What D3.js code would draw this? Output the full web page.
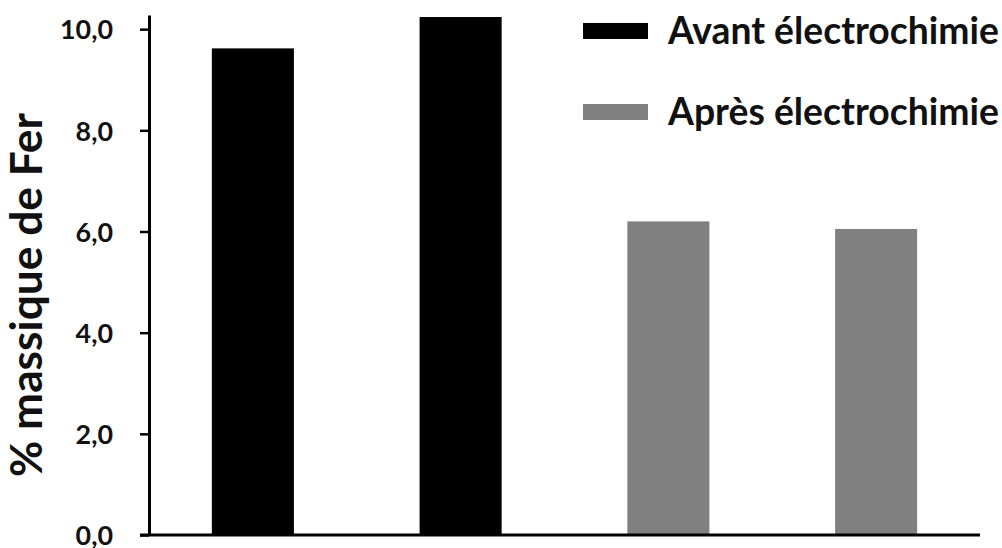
<!DOCTYPE html>
<html>
<head>
<meta charset="utf-8">
<script src="https://cdn.jsdelivr.net/npm/d3@7/dist/d3.min.js"></script>
<style>
html,body{margin:0;padding:0;background:#fff;}
svg{display:block;}
text{font-family:Lato,"Open Sans",sans-serif;font-weight:bold;fill:#111;}
</style>
</head>
<body>
<svg id="chart" width="1002" height="548"></svg>
<script>
const categories = ["E1", "E2", "E3", "E4"];
const values = [9.62, 10.24, 6.20, 6.05];
const seriesOf = ["Avant électrochimie", "Avant électrochimie", "Après électrochimie", "Après électrochimie"];
const seriesNames = ["Avant électrochimie", "Après électrochimie"];
const seriesColors = ["#000000", "#808080"];
const yTicks = [0, 2, 4, 6, 8, 10];
const yLabel = "% massique de Fer";

const svg = d3.select("#chart");
const plot = {left: 149, right: 980, top: 15, bottom: 535};

const x = d3.scaleBand().domain(categories).range([plot.left, plot.right]).paddingInner(0.605).paddingOuter(0.3025);
const y = d3.scaleLinear().domain([0, 10.28]).range([plot.bottom, plot.top]);
const color = d3.scaleOrdinal().domain(seriesNames).range(seriesColors);

function fit(sel, target) {
  const n = sel.node();
  const fs = parseFloat(sel.attr("font-size"));
  const w = n.getComputedTextLength();
  const nf = fs * target / w;
  sel.attr("font-size", nf);
  return nf;
}

// bars
svg.append("g").selectAll("rect").data(categories).join("rect")
  .attr("x", d => x(d))
  .attr("width", x.bandwidth())
  .attr("y", (d, i) => y(values[i]))
  .attr("height", (d, i) => y(0) - y(values[i]))
  .attr("fill", (d, i) => color(seriesOf[i]));

// y axis
const fmt = v => d3.format(".1f")(v).replace(".", ",");
const yAxis = d3.axisLeft(y).tickValues(yTicks).tickFormat(fmt).tickSize(9).tickSizeOuter(0).tickPadding(27);
const gy = svg.append("g").attr("transform", `translate(${plot.left},0)`).call(yAxis);
gy.select(".domain").attr("stroke", "#000").attr("stroke-width", 3);
gy.selectAll(".tick line").attr("stroke", "#000").attr("stroke-width", 2.5);
const tickTexts = gy.selectAll(".tick text").attr("font-size", 26).attr("font-family", "Lato").attr("font-weight", "bold").attr("fill", "#111").attr("dy", "0.36em");
// size tick labels so that the widest ("10,0") matches the reference width
const widest = tickTexts.filter(d => d === 10);
const tfs = fit(widest, 53);
tickTexts.attr("font-size", tfs);

// x axis baseline
const xAxis = d3.axisBottom(x).tickSize(0).tickFormat("");
const gx = svg.append("g").attr("transform", `translate(0,${plot.bottom})`).call(xAxis);
gx.select(".domain").attr("stroke", "#000").attr("stroke-width", 3).attr("d", `M${plot.left - 9},0H${plot.right}`);

// y label
const yl = svg.append("text")
  .attr("transform", `translate(42,${(113 + 477) / 2}) rotate(-90)`)
  .attr("text-anchor", "middle")
  .attr("font-size", 40)
  .text(yLabel);
fit(yl, 364);

// legend
const leg = svg.append("g");
const legY = [31, 112];
seriesNames.forEach((s, i) => {
  leg.append("rect").attr("x", 583).attr("y", legY[i] - 8).attr("width", 65).attr("height", 16).attr("fill", color(s));
  const t = leg.append("text").attr("x", 668).attr("y", legY[i]).attr("dy", "0.35em").attr("font-size", 30).text(s);
  fit(t, 331);
});
</script>
</body>
</html>
